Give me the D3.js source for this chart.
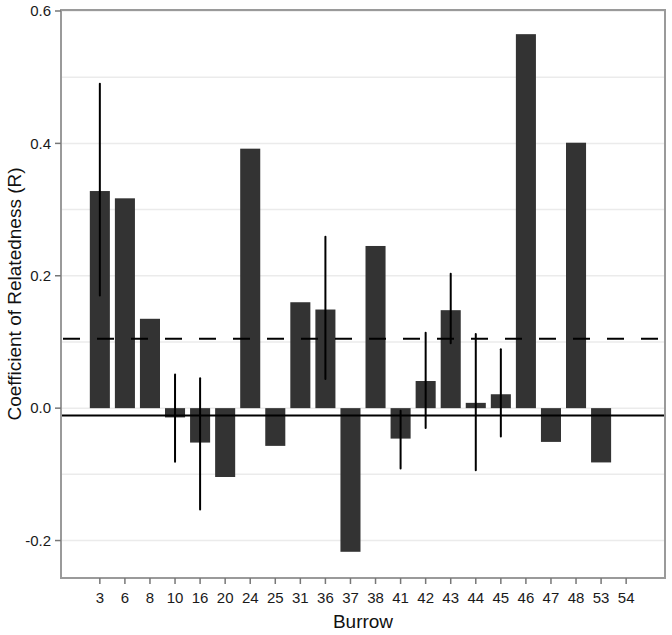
<!DOCTYPE html>
<html>
<head>
<meta charset="utf-8">
<script src="https://cdn.jsdelivr.net/npm/d3@7"></script>
<style>
  body { margin: 0; background: #fff; }
  svg { display: block; font-family: "Liberation Sans", Arial, sans-serif; }
  .grid line { stroke: #ebebeb; stroke-width: 1.5; }
  .bar { fill: #333333; }
  .err { stroke: #000; stroke-width: 2; stroke-linecap: round; }
  .tick-label { font-size: 15px; fill: #1a1a1a; }
  .title { font-size: 19px; fill: #111; }
</style>
</head>
<body>
<div id="chart"></div>
<script>
var burrows = ["3","6","8","10","16","20","24","25","31","36","37",
               "38","41","42","43","44","45","46","47","48","53","54"];
var relatedness = [0.328, 0.317, 0.135, -0.014, -0.052, -0.104, 0.392, -0.057, 0.160, 0.149, -0.217,
                   0.245, -0.046, 0.041, 0.148, 0.008, 0.021, 0.565, -0.051, 0.401, -0.082, null];
var errLow  = [0.170, null, null, -0.081, -0.153, null, null, null, null, 0.044, null,
               null, -0.091, -0.030, 0.098, -0.094, -0.043, null, null, null, null, null];
var errHigh = [0.490, null, null, 0.051, 0.045, null, null, null, null, 0.259, null,
               null, -0.004, 0.114, 0.203, 0.112, 0.089, null, null, null, null, null];
var yTicks = [-0.2, 0.0, 0.2, 0.4, 0.6];
var yMinor = [-0.1, 0.1, 0.3, 0.5];
var dashedRef = 0.105;
var solidRef = -0.011;

var width = 672, height = 635;
var panel = {left: 61, right: 665, top: 10, bottom: 578};

var svg = d3.select("#chart").append("svg")
    .attr("width", width)
    .attr("height", height);

var x = d3.scalePoint()
    .domain(burrows)
    .range([panel.left, panel.right])
    .padding(1.55);

var y = d3.scaleLinear()
    .domain([-0.2566, 0.6015])
    .range([panel.bottom, panel.top]);

var barW = x.step() * 0.8;

// grid
var grid = svg.append("g").attr("class", "grid");
grid.selectAll("line")
  .data(yTicks.concat(yMinor))
  .enter().append("line")
    .attr("x1", panel.left)
    .attr("x2", panel.right)
    .attr("y1", d => y(d))
    .attr("y2", d => y(d));

// bars
var data = burrows.map((b, i) => ({b: b, v: relatedness[i], lo: errLow[i], hi: errHigh[i]}));

svg.selectAll(".bar")
  .data(data.filter(d => d.v !== null))
  .enter().append("rect")
    .attr("class", "bar")
    .attr("x", d => x(d.b) - barW / 2)
    .attr("width", barW)
    .attr("y", d => y(Math.max(0, d.v)))
    .attr("height", d => Math.abs(y(d.v) - y(0)));

// reference lines
svg.append("line")
    .attr("x1", panel.left + 1)
    .attr("x2", panel.right)
    .attr("y1", y(dashedRef))
    .attr("y2", y(dashedRef))
    .attr("stroke", "#000")
    .attr("stroke-width", 2)
    .attr("stroke-dasharray", "17,17")
    .attr("stroke-dashoffset", -1);

svg.append("line")
    .attr("x1", panel.left)
    .attr("x2", panel.right)
    .attr("y1", y(solidRef))
    .attr("y2", y(solidRef))
    .attr("stroke", "#000")
    .attr("stroke-width", 2);

// error bars
svg.selectAll(".err")
  .data(data.filter(d => d.lo !== null))
  .enter().append("line")
    .attr("class", "err")
    .attr("x1", d => x(d.b))
    .attr("x2", d => x(d.b))
    .attr("y1", d => y(d.hi))
    .attr("y2", d => y(d.lo));

// panel border
svg.append("rect")
    .attr("x", panel.left)
    .attr("y", panel.top)
    .attr("width", panel.right - panel.left)
    .attr("height", panel.bottom - panel.top)
    .attr("fill", "none")
    .attr("stroke", "#9a9a9a")
    .attr("stroke-width", 2);

// y axis ticks + labels
var yAxis = svg.append("g");
yAxis.selectAll("line")
  .data(yTicks)
  .enter().append("line")
    .attr("x1", panel.left - 6)
    .attr("x2", panel.left)
    .attr("y1", d => y(d))
    .attr("y2", d => y(d))
    .attr("stroke", "#777")
    .attr("stroke-width", 1.5);
yAxis.selectAll("text")
  .data(yTicks)
  .enter().append("text")
    .attr("class", "tick-label")
    .attr("x", panel.left - 10)
    .attr("y", d => y(d))
    .attr("dy", "0.35em")
    .attr("text-anchor", "end")
    .text(d => d3.format(".1f")(d).replace("\u2212", "-"));

// x axis ticks + labels
var xAxis = svg.append("g");
xAxis.selectAll("line")
  .data(burrows)
  .enter().append("line")
    .attr("x1", d => x(d))
    .attr("x2", d => x(d))
    .attr("y1", panel.bottom)
    .attr("y2", panel.bottom + 6)
    .attr("stroke", "#777")
    .attr("stroke-width", 1.5);
xAxis.selectAll("text")
  .data(burrows)
  .enter().append("text")
    .attr("class", "tick-label")
    .attr("x", d => x(d))
    .attr("y", panel.bottom + 25)
    .attr("text-anchor", "middle")
    .text(d => d);

// titles
svg.append("text")
    .attr("class", "title")
    .attr("x", (panel.left + panel.right) / 2)
    .attr("y", 628)
    .attr("text-anchor", "middle")
    .text("Burrow");

svg.append("text")
    .attr("class", "title")
    .attr("transform", `translate(21,${(panel.top + panel.bottom) / 2}) rotate(-90)`)
    .attr("text-anchor", "middle")
    .text("Coefficient of Relatedness (R)");
</script>
</body>
</html>
